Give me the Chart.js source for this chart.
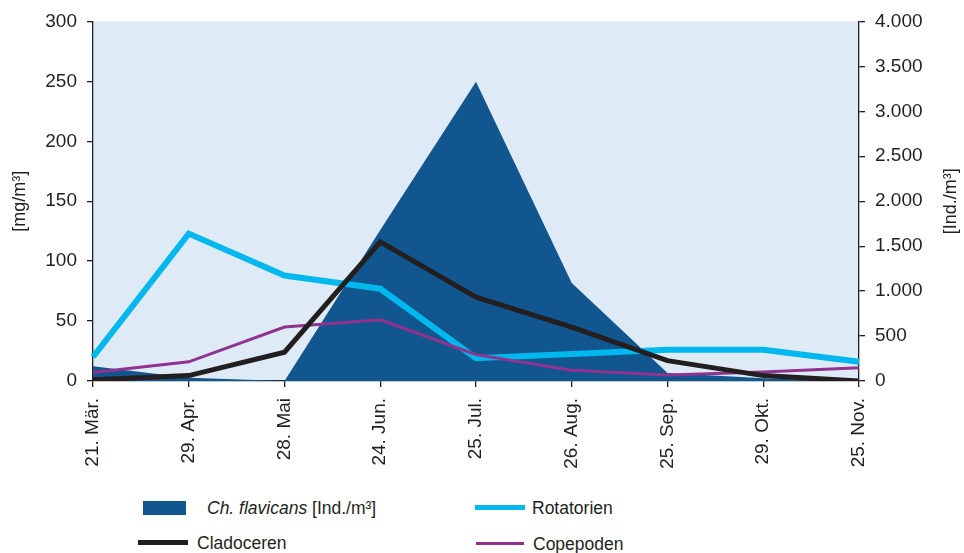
<!DOCTYPE html>
<html>
<head>
<meta charset="utf-8">
<script src="https://cdn.jsdelivr.net/npm/chart.js@4"></script>
<style>
  body { margin: 0; background: #fff; font-family: "Liberation Sans", Arial, sans-serif; color: #231f20; }
  #wrap { position: relative; width: 964px; height: 553px; }
  #chartBox { position: absolute; left: 0; top: 0; width: 964px; height: 480px; }
  .lg { position: absolute; font-size: 17.5px; line-height: 20px; white-space: nowrap; }
  .sw { position: absolute; }
</style>
</head>
<body>
<div id="wrap">
  <div id="chartBox"><canvas id="chart"></canvas></div>

  <div class="sw" style="left:143px;top:501px;width:43px;height:14px;background:#12568f"></div>
  <div class="lg" style="left:207px;top:498px"><i>Ch. flavicans</i> [Ind./m³]</div>

  <div class="sw" style="left:138px;top:540px;width:50px;height:5px;background:#231f20"></div>
  <div class="lg" style="left:197px;top:533px">Cladoceren</div>

  <div class="sw" style="left:475px;top:505px;width:50px;height:5px;background:#00b7ee"></div>
  <div class="lg" style="left:532px;top:498px">Rotatorien</div>

  <div class="sw" style="left:476px;top:542px;width:48px;height:3px;background:#92328f"></div>
  <div class="lg" style="left:533px;top:534px">Copepoden</div>
</div>

<script>
// sampling dates
let dates = ["21. Mär.", "29. Apr.", "28. Mai", "24. Jun.", "25. Jul.", "26. Aug.", "25. Sep.", "29. Okt.", "25. Nov."];

// Ch. flavicans [Ind./m³] - right axis
let flavicans = [165, 35, 0, 1680, 3330, 1090, 90, 30, 0];

// zooplankton biomass [mg/m³] - left axis
let rotatorien = [20, 123, 88, 77, 19, 22.5, 26, 26, 16];
let cladoceren = [1, 4.5, 24, 116, 70, 45, 17, 4.5, 0];
let copepoden = [7, 16, 45, 51, 22, 9, 5, 7.5, 11];

let leftTicks = [0, 50, 100, 150, 200, 250, 300];

const ink = "#231f20";
const fontFamily = "'Liberation Sans', Arial, sans-serif";
const tickFont = { family: fontFamily, size: 19 };
const titleFont = { family: fontFamily, size: 18 };

function formatDe(v) {
    return v.toString().replace(/\B(?=(\d{3})+(?!\d))/g, ".");
}

// light blue plot background
const plotBg = {
    id: "plotBg",
    beforeDraw(chart) {
        let a = chart.chartArea;
        let ctx = chart.ctx;
        ctx.save();
        ctx.fillStyle = "#deebf7";
        ctx.fillRect(a.left, a.top, a.right - a.left, a.bottom - a.top);
        ctx.restore();
    }
};

// right axis title reads bottom-to-top, like the left one
const rightTitle = {
    id: "rightTitle",
    afterDraw(chart) {
        let a = chart.chartArea;
        let ctx = chart.ctx;
        ctx.save();
        ctx.translate(951, (a.top + a.bottom) / 2);
        ctx.rotate(-Math.PI / 2);
        ctx.fillStyle = ink;
        ctx.font = titleFont.size + "px " + fontFamily;
        ctx.textAlign = "center";
        ctx.textBaseline = "middle";
        ctx.fillText("[Ind./m³]", 0, 0);
        ctx.restore();
    }
};

const axisLine = { drawOnChartArea: false, drawTicks: true, tickLength: 6, color: ink, lineWidth: 1.3 };

new Chart(document.getElementById("chart"), {
    type: "line",
    data: {
        labels: dates,
        datasets: [
            {
                label: "Cladoceren",
                data: cladoceren,
                borderColor: ink,
                borderWidth: 5,
                pointRadius: 0,
                yAxisID: "y",
                order: 1
            },
            {
                label: "Copepoden",
                data: copepoden,
                borderColor: "#92328f",
                borderWidth: 3,
                pointRadius: 0,
                yAxisID: "y",
                order: 2
            },
            {
                label: "Rotatorien",
                data: rotatorien,
                borderColor: "#00b7ee",
                borderWidth: 6,
                pointRadius: 0,
                yAxisID: "y",
                order: 3
            },
            {
                label: "Ch. flavicans [Ind./m³]",
                data: flavicans,
                backgroundColor: "#12568f",
                borderWidth: 0,
                borderColor: "rgba(0,0,0,0)",
                fill: "origin",
                pointRadius: 0,
                yAxisID: "y1",
                order: 10
            }
        ]
    },
    options: {
        responsive: true,
        maintainAspectRatio: false,
        animation: false,
        layout: { padding: { top: 18, left: 0, right: 0, bottom: 0 } },
        plugins: {
            legend: { display: false },
            tooltip: { enabled: false }
        },
        elements: { line: { tension: 0, borderJoinStyle: "miter" } },
        scales: {
            x: {
                offset: false,
                grid: axisLine,
                border: { color: ink, width: 1.3 },
                ticks: { color: ink, font: tickFont, minRotation: 90, maxRotation: 90, autoSkip: false, padding: 11 },
                afterFit: s => { s.height = 99; }
            },
            y: {
                position: "left",
                min: 0,
                max: 300,
                afterBuildTicks: s => { s.ticks = leftTicks.map(v => ({ value: v })); },
                grid: axisLine,
                border: { color: ink, width: 1.3 },
                ticks: { color: ink, font: tickFont, padding: 10 },
                title: { display: true, text: "[mg/m³]", color: ink, font: titleFont, padding: { top: 9, bottom: 0 } },
                afterFit: s => { s.width = 93; }
            },
            y1: {
                position: "right",
                min: 0,
                max: 4000,
                grid: axisLine,
                border: { color: ink, width: 1.3 },
                ticks: { color: ink, font: tickFont, stepSize: 500, padding: 10, callback: v => formatDe(v) },
                afterFit: s => { s.width = 105; }
            }
        }
    },
    plugins: [plotBg, rightTitle]
});
</script>
</body>
</html>
